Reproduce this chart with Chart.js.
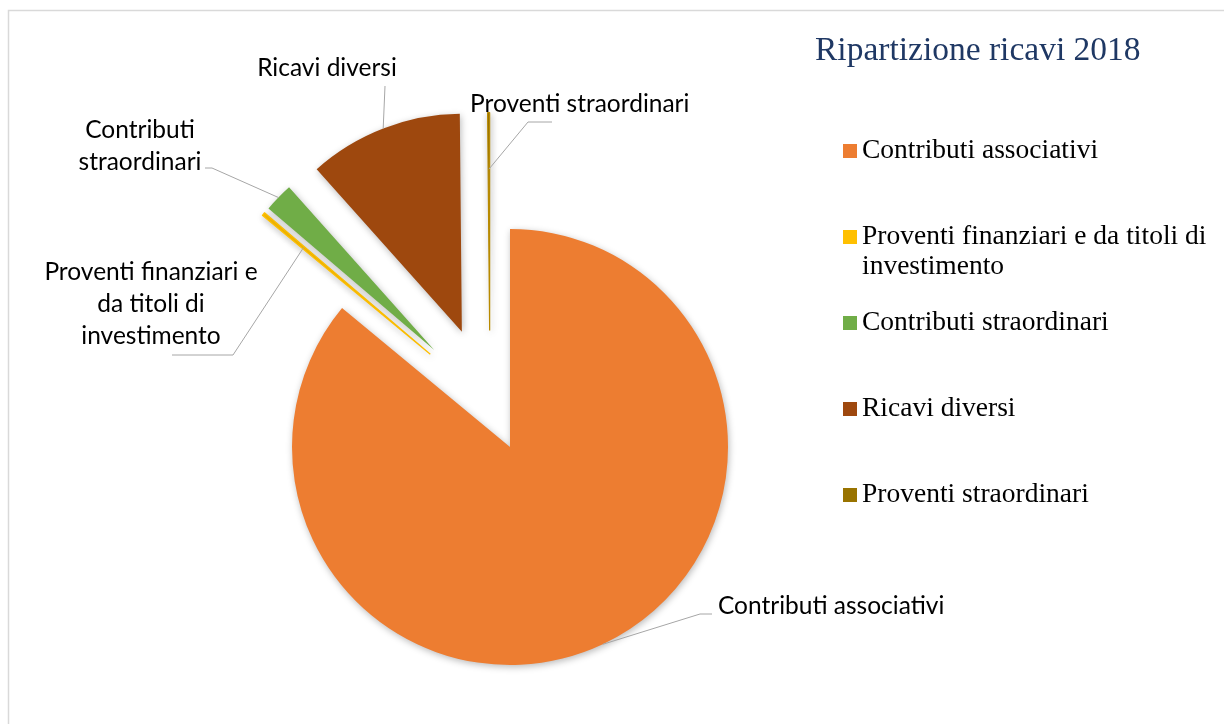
<!DOCTYPE html>
<html>
<head>
<meta charset="utf-8">
<script src="https://cdn.jsdelivr.net/npm/chart.js@4/dist/chart.umd.min.js"></script>
<style>
  body { margin: 0; background: #fff; }
  #graficoRicavi { display: block; }
</style>
</head>
<body>
<canvas id="graficoRicavi" width="1224" height="724"></canvas>
<script>
// dati (quote percentuali stimate)
var categorie = [
    "Contributi associativi",
    "Proventi finanziari e da titoli di investimento",
    "Contributi straordinari",
    "Ricavi diversi",
    "Proventi straordinari"
];
var valori = [86.0, 0.25, 2.15, 11.45, 0.15];
var titolo = "Ripartizione ricavi 2018";

var colori = ["#ED7D31", "#FFC000", "#70AD47", "#9E480E", "#997300"];
var esplosioni = [47, 78, 78, 78, 74];   // spostamento radiale delle fette, px
var raggio = 218;

// posizione delle etichette con linee guida
var etichette = [
    { righe: ["Contributi associativi"], x: 718, y: 606, allinea: "left", frazione: 1, gomito: [[700, 614], [712, 614]] },
    { righe: ["Proventi finanziari e", "da titoli di", "investimento"], x: 151, y: 272, allinea: "center", frazione: 0.76, gomito: [[233, 355], [172, 355]] },
    { righe: ["Contributi", "straordinari"], x: 140, y: 130, allinea: "center", frazione: 1, gomito: [[212, 168], [205, 168]] },
    { righe: ["Ricavi diversi"], x: 327, y: 68, allinea: "center", frazione: 1, gomito: [[385, 86]] },
    { righe: ["Proventi straordinari"], x: 470, y: 104, allinea: "left", frazione: 0.74, gomito: [[528, 122], [552, 122]] }
];

// sposta il centro di ogni fetta lungo la sua bisettrice (esplosione)
var pluginEsplosione = {
    id: "esplosione",
    afterDatasetUpdate: function (chart, args) {
        args.meta.data.forEach(function (el, i) {
            var medio = (el.startAngle + el.endAngle) / 2;
            el.x += Math.cos(medio) * esplosioni[i];
            el.y += Math.sin(medio) * esplosioni[i];
        });
    }
};

var pluginOmbra = {
    id: "ombra",
    beforeDatasetsDraw: function (chart) {
        var ctx = chart.ctx;
        ctx.save();
        ctx.shadowColor = "rgba(0,0,0,0.28)";
        ctx.shadowBlur = 7;
        ctx.shadowOffsetX = 1;
        ctx.shadowOffsetY = 2;
    },
    afterDatasetsDraw: function (chart) {
        chart.ctx.restore();
    }
};

var pluginCornice = {
    id: "cornice",
    beforeDraw: function (chart) {
        var ctx = chart.ctx;
        ctx.save();
        ctx.strokeStyle = "#d9d9d9";
        ctx.lineWidth = 1.5;
        ctx.beginPath();
        ctx.moveTo(8.5, 724);
        ctx.lineTo(8.5, 10.5);
        ctx.lineTo(1224, 10.5);
        ctx.stroke();
        ctx.restore();
    }
};

var pluginEtichette = {
    id: "etichette",
    afterDraw: function (chart) {
        var ctx = chart.ctx;
        var meta = chart.getDatasetMeta(0);
        ctx.save();
        ctx.font = "24.5px Lato";
        ctx.fillStyle = "#000";
        ctx.textBaseline = "middle";
        etichette.forEach(function (et, i) {
            var el = meta.data[i];
            var medio = (el.startAngle + el.endAngle) / 2;
            var ax = el.x + Math.cos(medio) * el.outerRadius * et.frazione;
            var ay = el.y + Math.sin(medio) * el.outerRadius * et.frazione;
            ctx.strokeStyle = "#a6a6a6";
            ctx.lineWidth = 1;
            ctx.beginPath();
            ctx.moveTo(ax, ay);
            et.gomito.forEach(function (p) { ctx.lineTo(p[0], p[1]); });
            ctx.stroke();
            ctx.textAlign = et.allinea;
            et.righe.forEach(function (riga, k) {
                ctx.fillText(riga, et.x, et.y + k * 32);
            });
        });

        // titolo e legenda a destra
        ctx.textAlign = "left";
        ctx.fillStyle = "#1F3864";
        ctx.font = "33.5px 'Liberation Serif'";
        ctx.fillText(titolo, 815, 51);

        ctx.font = "27.5px 'Liberation Serif'";
        var y = 151;
        categorie.forEach(function (nome, i) {
            ctx.fillStyle = colori[i];
            ctx.fillRect(843, y - 7, 14, 14);
            ctx.fillStyle = "#000";
            var righe = avvolgi(ctx, nome, 358);
            righe.forEach(function (r, k) {
                ctx.fillText(r, 862, y + k * 30);
            });
            y += 86;
        });
        ctx.restore();
    }
};

function avvolgi(ctx, testo, largMax) {
    var parole = testo.split(" ");
    var righe = [];
    var corrente = "";
    parole.forEach(function (p) {
        var prova = corrente ? corrente + " " + p : p;
        if (ctx.measureText(prova).width > largMax && corrente) {
            righe.push(corrente);
            corrente = p;
        } else {
            corrente = prova;
        }
    });
    righe.push(corrente);
    return righe;
}

new Chart(graficoRicavi.getContext("2d"), {
    type: "pie",
    data: {
        labels: categorie,
        datasets: [{
            data: valori,
            backgroundColor: colori,
            borderColor: ["#ED7D31", "#FFC000", "#70AD47", "#9E480E", "#B88A00"],
            borderWidth: [0, 1.2, 0, 0, 1.2],
            radius: raggio
        }]
    },
    options: {
        responsive: false,
        animation: false,
        layout: { padding: { left: 0, right: 244, top: 85, bottom: 0 } },
        plugins: {
            legend: { display: false },
            tooltip: { enabled: false }
        }
    },
    plugins: [pluginEsplosione, pluginOmbra, pluginCornice, pluginEtichette]
});
</script>
</body>
</html>
